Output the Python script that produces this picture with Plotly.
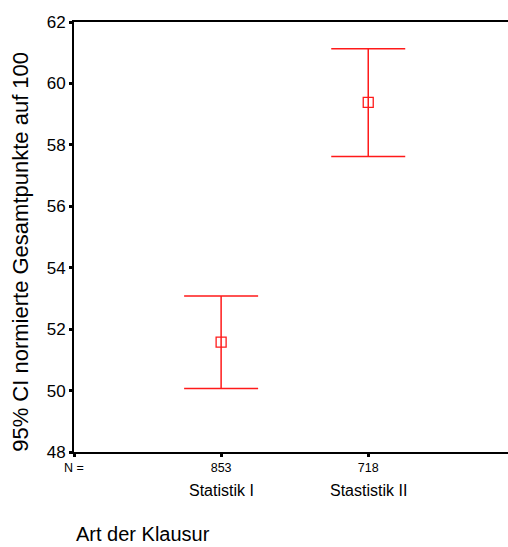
import plotly.graph_objects as go

# Exam groups and 95% confidence intervals of the normalised total score
categories = ["Statistik I", "Stastistik II"]
cat_pos = [1, 2]
n_values = ["853", "718"]
means = [51.58, 59.38]
ci_lower = [50.07, 57.62]
ci_upper = [53.08, 61.13]

err_plus = [u - m for u, m in zip(ci_upper, means)]
err_minus = [m - l for m, l in zip(means, ci_lower)]

FONT = "Liberation Sans, Arial, sans-serif"
RED = "#ff1a1a"

fig = go.Figure()
fig.add_trace(go.Scatter(
    x=cat_pos,
    y=means,
    mode="markers",
    marker=dict(symbol="square-open", size=10, color=RED, line=dict(width=1.3, color=RED)),
    error_y=dict(
        type="data",
        symmetric=False,
        array=err_plus,
        arrayminus=err_minus,
        color=RED,
        thickness=1.5,
        width=37,
    ),
    showlegend=False,
    hoverinfo="skip",
))

fig.update_layout(
    width=508,
    height=547,
    margin=dict(l=74, r=0, t=22, b=95),
    paper_bgcolor="white",
    plot_bgcolor="white",
    font=dict(family=FONT, color="black"),
    xaxis=dict(
        range=[0, 2.95],
        tickvals=[0] + cat_pos,
        ticktext=["N ="] + n_values,
        tickfont=dict(size=12.5, color="black"),
        ticks="outside",
        ticklen=3,
        tickwidth=3,
        tickcolor="black",
        showline=True,
        linecolor="black",
        linewidth=2,
        mirror=True,
        showgrid=False,
        zeroline=False,
    ),
    yaxis=dict(
        range=[48, 62],
        tickvals=[48, 50, 52, 54, 56, 58, 60, 62],
        tickfont=dict(size=17, color="black"),
        ticks="outside",
        ticklen=3,
        tickwidth=3,
        tickcolor="black",
        showline=True,
        linecolor="black",
        linewidth=2,
        showgrid=False,
        zeroline=False,
    ),
)

# Category names beneath the N counts
for pos, name in zip(cat_pos, categories):
    fig.add_annotation(
        x=pos, y=-0.089, xref="x", yref="paper",
        text=name, showarrow=False,
        font=dict(size=16, family=FONT, color="black"),
        xanchor="center", yanchor="middle",
    )

# Axis titles
fig.add_annotation(
    x=0.0, y=-0.221, xref="paper", yref="paper",
    text="Art der Klausur", showarrow=False,
    font=dict(size=20, family=FONT, color="black"),
    xanchor="left", yanchor="bottom",
)
fig.add_annotation(
    x=-0.124, y=0.466, xref="paper", yref="paper",
    text="95% CI normierte Gesamtpunkte auf 100", showarrow=False,
    textangle=-90,
    font=dict(size=22, family=FONT, color="black"),
    xanchor="center", yanchor="middle",
)

fig.write_html("out.html")
